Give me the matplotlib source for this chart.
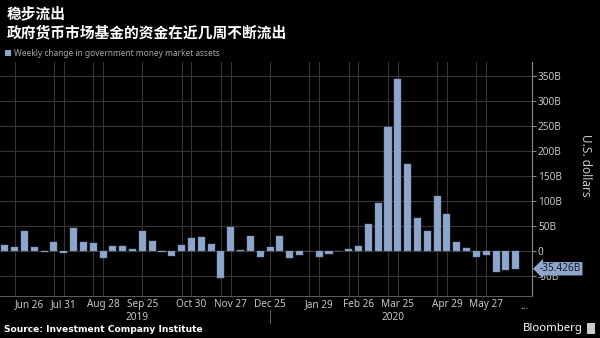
import matplotlib
matplotlib.use("Agg")
import matplotlib.pyplot as plt
import pandas as pd
import numpy as np

# ---- data ----
dates = pd.date_range("2019-06-19", periods=53, freq="7D")
values = [12, 8, 40, 9, -1, 19, -4, 47, 19, 16, -13, 10, 11, 4, 40, 21, -1, -9,
          13, 27, 28, 15, -53, 48, 3, 31, -11, 8, 30, -13, -7, 1, -11, -5, 1, 5,
          11, 55, 96, 249, 345, 174, 66, 41, 110, 75, 19, 7, -12, -7, -42, -37, -35.426]
tick_dates = ["2019-06-26", "2019-07-31", "2019-08-28", "2019-09-25", "2019-10-30",
              "2019-11-27", "2019-12-25", "2020-01-29", "2020-02-26", "2020-03-25",
              "2020-04-29", "2020-05-27"]
tick_labels = ["Jun 26", "Jul 31", "Aug 28", "Sep 25", "Oct 30", "Nov 27", "Dec 25",
               "Jan 29", "Feb 26", "Mar 25", "Apr 29", "May 27"]
y_ticks = [-50, 0, 50, 100, 150, 200, 250, 300, 350]
y_labels = ["-50B", "0", "50B", "100B", "150B", "200B", "250B", "300B", "350B"]
years = ["2019", "2020"]
year_centers = ["2019-09-25", "2020-03-25"]
title1 = "稳步流出"
title2 = "政府货币市场基金的资金在近几周不断流出"
legend_text = "Weekly change in government money market assets"
source_text = "Source: Investment Company Institute"
last_label = "-35.426B"

BG = "#000000"
BAR = "#8ea5cc"
GRID = "#353535"
TXT = "#c8c8c8"

fig = plt.figure(figsize=(6, 3.38), dpi=100, facecolor=BG)
W, H = 600, 338
left, right, top, bottom = 0, 531.7, 62, 296
ax = fig.add_axes([left / W, (H - bottom) / H, (right - left) / W, (bottom - top) / H])
ax.set_facecolor(BG)

x = np.arange(len(values))
date_idx = {d.strftime("%Y-%m-%d"): i for i, d in enumerate(dates)}
tick_pos = [date_idx[d] for d in tick_dates]

# gridlines
for v in y_ticks:
    ax.axhline(v, color=GRID, lw=0.8, zorder=0)
for i, p in enumerate(tick_pos):
    ax.axvline(p, color=GRID, lw=0.8, zorder=0)
    if tick_labels[i] not in ("Jun 26", "Sep 25", "Dec 25"):
        ax.axvline(p - 1, color=GRID, lw=0.8, zorder=0)

ax.bar(x, values, width=0.72, color=BAR, edgecolor="#6f86ad", linewidth=0.3, zorder=2)

ax.set_xlim(-0.49, 53.63)
ax.set_ylim(-90, 379)

for s in ["top", "left"]:
    ax.spines[s].set_visible(False)
ax.spines["right"].set_color("#8a8a8a")
ax.spines["bottom"].set_color("#5a5a5a")
ax.spines["right"].set_linewidth(0.8)
ax.spines["bottom"].set_linewidth(0.8)

ax.yaxis.tick_right()
ax.set_yticks(y_ticks)
ax.set_yticklabels(y_labels)
ax.tick_params(axis="y", colors="#8a8a8a", length=3, width=0.8, pad=1.5,
               labelcolor=TXT, labelsize=7.2)
ax.set_xticks(tick_pos)
ax.set_xticklabels(tick_labels)
ax.tick_params(axis="x", length=0, pad=2.5, labelcolor=TXT, labelsize=7.2)
for lab in ax.get_yticklabels() + ax.get_xticklabels():
    lab.set_fontfamily("Noto Sans")
ax.get_xticklabels()[0].set_ha("left")
ax.get_xticklabels()[0].set_x(tick_pos[0] - 0.45)

# "..." at end of axis
ax.text(52.9, -0.02, "...", transform=ax.get_xaxis_transform(), ha="center", va="top",
        color=TXT, fontsize=7.2, family="Noto Sans")
# year labels
for yr, c in zip(years, year_centers):
    ax.text(date_idx[c] - 0.5, -0.068, yr, transform=ax.get_xaxis_transform(),
            ha="center", va="top", color=TXT, fontsize=7.2, family="Noto Sans")
ax.plot([27, 27], [-0.06, -0.115], transform=ax.get_xaxis_transform(),
        color="#666666", lw=0.7, clip_on=False)

# last value label
ax.annotate(last_label, xy=(1.0, values[-1]), xycoords=("axes fraction", "data"),
            xytext=(6, 0), textcoords="offset points", ha="left", va="center",
            color="#0e1a30", fontsize=7.2, family="Noto Sans",
            bbox=dict(boxstyle="larrow,pad=0.12", fc="#8ea5cc", ec="none"),
            annotation_clip=False, zorder=5)

# axis title
fig.text(586 / W, 1 - 165 / H, "U.S. dollars", rotation=270, ha="center", va="center",
         color=TXT, fontsize=8.5, family="Noto Sans")

# titles
fig.text(7 / W, 1 - 13 / H, title1, ha="left", va="center", color="white",
         fontsize=10.6, fontweight="bold", family=["Noto Sans CJK SC", "DejaVu Sans"])
fig.text(7 / W, 1 - 32 / H, title2, ha="left", va="center", color="white",
         fontsize=10.6, fontweight="bold", family=["Noto Sans CJK SC", "DejaVu Sans"])

# legend
fig.patches.append(plt.Rectangle((5 / W, 1 - 56 / H), 6 / W, 6 / H, transform=fig.transFigure,
                                 facecolor=BAR, edgecolor="none"))
fig.text(14 / W, 1 - 53 / H, legend_text, ha="left", va="center", color="#a8a8a8",
         fontsize=6.0, family="Noto Sans")

# footer
fig.text(4 / W, 1 - 330 / H, source_text, ha="left", va="center", color="white",
         fontsize=6.6, fontweight="bold", family="DejaVu Sans")
fig.text(583 / W, 1 - 328 / H, "Bloomberg", ha="right", va="center", color="white",
         fontsize=8.2, family="Noto Sans")
fig.patches.append(plt.Rectangle((587 / W, 1 - 334 / H), 8 / W, 11 / H, transform=fig.transFigure,
                                 facecolor="#cccccc", edgecolor="none"))

fig.savefig("out.png", dpi=100, facecolor=BG)
